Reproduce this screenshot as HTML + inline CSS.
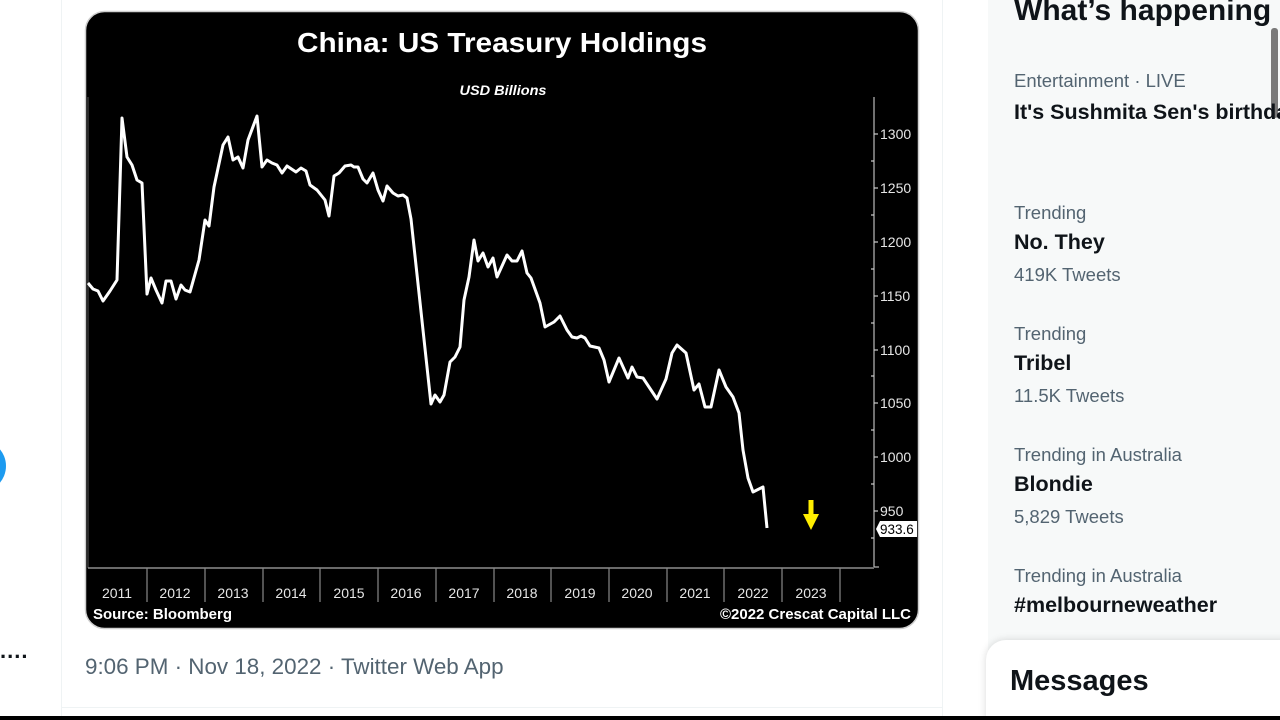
<!DOCTYPE html>
<html><head><meta charset="utf-8">
<style>
html,body{margin:0;padding:0;width:1280px;height:720px;overflow:hidden;background:#fff;font-family:"Liberation Sans",sans-serif;}
.abs{position:absolute;}
.side{left:988px;top:0;width:292px;height:650px;background:#f7f9f9;}
.g{color:#536471;font-size:18.5px;white-space:nowrap;}
.b{color:#0f1419;font-size:21.5px;font-weight:bold;white-space:nowrap;}
</style></head>
<body>
<!-- left nav -->
<div class="abs" style="left:-46px;top:440px;width:52px;height:52px;border-radius:50%;background:#1d9bf0;"></div>
<div class="abs" style="left:0;top:638px;font-size:22px;font-weight:bold;color:#0f1419;letter-spacing:1px;">....</div>
<div class="abs" style="left:61px;top:0;width:1px;height:716px;background:#eff3f4;"></div>
<div class="abs" style="left:942px;top:0;width:1px;height:716px;background:#eff3f4;"></div>
<div class="abs" style="left:62px;top:707px;width:880px;height:1px;background:#eff3f4;"></div>

<!-- chart -->
<svg class="abs" style="left:0;top:0" width="940" height="640" viewBox="0 0 940 640">
<rect x="85.5" y="11.5" width="833" height="617" rx="19" fill="#000" stroke="#cfcfcf" stroke-width="1.5"/>
<text x="502" y="52" text-anchor="middle" fill="#fff" font-family="Liberation Sans" font-weight="bold" font-size="28" textLength="410" lengthAdjust="spacingAndGlyphs">China: US Treasury Holdings</text>
<text x="503" y="95" text-anchor="middle" fill="#fff" font-family="Liberation Sans" font-weight="bold" font-style="italic" font-size="14" textLength="87" lengthAdjust="spacingAndGlyphs">USD Billions</text>
<line x1="88" y1="97" x2="88" y2="568" stroke="#555" stroke-width="1"/>
<!-- x axis -->
<line x1="88" y1="568" x2="874" y2="568" stroke="#aaa" stroke-width="1.2"/>
<g stroke="#888" stroke-width="1.2">
<line x1="147" y1="568" x2="147" y2="602"/><line x1="205" y1="568" x2="205" y2="602"/><line x1="263" y1="568" x2="263" y2="602"/><line x1="320" y1="568" x2="320" y2="602"/><line x1="378" y1="568" x2="378" y2="602"/><line x1="436" y1="568" x2="436" y2="602"/><line x1="494" y1="568" x2="494" y2="602"/><line x1="551" y1="568" x2="551" y2="602"/><line x1="609" y1="568" x2="609" y2="602"/><line x1="667" y1="568" x2="667" y2="602"/><line x1="724" y1="568" x2="724" y2="602"/><line x1="782" y1="568" x2="782" y2="602"/><line x1="840" y1="568" x2="840" y2="602"/>
</g>
<g fill="#e6e6e6" font-family="Liberation Sans" font-size="14" text-anchor="middle">
<text x="117" y="598">2011</text><text x="175" y="598">2012</text><text x="233" y="598">2013</text><text x="291" y="598">2014</text><text x="349" y="598">2015</text><text x="406" y="598">2016</text><text x="464" y="598">2017</text><text x="522" y="598">2018</text><text x="580" y="598">2019</text><text x="637" y="598">2020</text><text x="695" y="598">2021</text><text x="753" y="598">2022</text><text x="811" y="598">2023</text>
</g>
<!-- right axis -->
<line x1="874" y1="97" x2="874" y2="567" stroke="#bbb" stroke-width="1.2"/>
<line x1="874" y1="567" x2="879" y2="567" stroke="#bbb" stroke-width="1.2"/>
<g stroke="#ccc" stroke-width="1.2">
<line x1="874" y1="134" x2="878" y2="134"/><line x1="874" y1="188" x2="878" y2="188"/><line x1="874" y1="242" x2="878" y2="242"/><line x1="874" y1="296" x2="878" y2="296"/><line x1="874" y1="350" x2="878" y2="350"/><line x1="874" y1="403" x2="878" y2="403"/><line x1="874" y1="457" x2="878" y2="457"/><line x1="874" y1="511" x2="878" y2="511"/>
<line x1="871" y1="161" x2="874" y2="161"/><line x1="871" y1="215" x2="874" y2="215"/><line x1="871" y1="269" x2="874" y2="269"/><line x1="871" y1="323" x2="874" y2="323"/><line x1="871" y1="376" x2="874" y2="376"/><line x1="871" y1="430" x2="874" y2="430"/><line x1="871" y1="484" x2="874" y2="484"/><line x1="871" y1="538" x2="874" y2="538"/>
</g>
<g fill="#e6e6e6" font-family="Liberation Sans" font-size="14">
<text x="880" y="139">1300</text><text x="880" y="193">1250</text><text x="880" y="247">1200</text><text x="880" y="301">1150</text><text x="880" y="355">1100</text><text x="880" y="408">1050</text><text x="880" y="462">1000</text><text x="880" y="516">950</text>
</g>
<path d="M876 529 L880 521 L917 521 L917 537 L880 537 Z" fill="#fff"/>
<text x="880" y="534" fill="#000" font-family="Liberation Sans" font-size="13.5">933.6</text>
<!-- series -->
<polyline fill="none" stroke="#fff" stroke-width="3" stroke-linejoin="round" points="88,283 93,289 98,291 103,301 110,291 117,280 122,118 127,157 132,165 137,180 142,183 147,294 151,278 156,290 162,303 166,281 171,281 176,299 181,285 185,290 190,292 199,260 205,220 209,226 214,187 223,145 228,137 233,160 238,157 243,168 248,140 257,116 262,167 267,160 272,163 277,165 282,173 287,166 296,172 301,168 306,171 310,185 317,190 325,200 329,216 334,176 339,173 345,166 351,165 354,167 358,167 363,179 367,183 373,173 378,190 383,201 387,186 393,193 398,196 403,195 407,198 411,219 431,404 435,395 440,402 444,395 450,362 455,357 460,347 464,300 469,277 474,240 478,261 483,253 488,267 493,258 497,277 507,255 512,261 517,261 522,251 527,273 531,278 540,303 545,327 554,322 560,316 567,330 572,337 577,338 581,336 585,338 590,346 599,348 604,360 609,382 619,358 628,378 632,367 637,377 643,378 657,399 666,379 672,353 677,345 686,353 694,390 699,384 705,407 711,407 719,370 726,387 733,397 739,413 743,450 748,478 753,492 763,487 767,528"/>
<!-- arrow -->
<rect x="808.5" y="500" width="5" height="15" fill="#ffee00"/>
<path d="M803 514 L819 514 L811 530 Z" fill="#ffee00"/>
<text x="93" y="619" fill="#fff" font-family="Liberation Sans" font-weight="bold" font-size="15" textLength="139" lengthAdjust="spacingAndGlyphs">Source: Bloomberg</text>
<text x="911" y="619" text-anchor="end" fill="#fff" font-family="Liberation Sans" font-weight="bold" font-size="15" textLength="191" lengthAdjust="spacingAndGlyphs">©2022 Crescat Capital LLC</text>
</svg>

<div class="abs" style="left:85px;top:654px;font-size:22.4px;color:#536471;white-space:nowrap;">9:06 PM · Nov 18, 2022 · Twitter Web App</div>

<!-- sidebar -->
<div class="abs side"></div>
<div class="abs" style="left:1014px;top:-6px;font-size:30px;font-weight:bold;color:#0f1419;white-space:nowrap;">What’s happening</div>
<div class="abs" style="left:1271px;top:28px;width:7px;height:90px;background:#7a7a7a;border-radius:3px;"></div>
<div class="abs g" style="left:1014px;top:70px;">Entertainment · LIVE</div>
<div class="abs b" style="left:1014px;top:100px;">It's Sushmita Sen's birthday</div>

<div class="abs g" style="left:1014px;top:202px;">Trending</div>
<div class="abs b" style="left:1014px;top:230px;">No. They</div>
<div class="abs g" style="left:1014px;top:264px;">419K Tweets</div>

<div class="abs g" style="left:1014px;top:323px;">Trending</div>
<div class="abs b" style="left:1014px;top:351px;">Tribel</div>
<div class="abs g" style="left:1014px;top:385px;">11.5K Tweets</div>

<div class="abs g" style="left:1014px;top:444px;">Trending in Australia</div>
<div class="abs b" style="left:1014px;top:472px;">Blondie</div>
<div class="abs g" style="left:1014px;top:506px;">5,829 Tweets</div>

<div class="abs g" style="left:1014px;top:565px;">Trending in Australia</div>
<div class="abs b" style="left:1014px;top:593px;">#melbourneweather</div>

<div class="abs" style="left:986px;top:640px;width:300px;height:80px;background:#fff;border-radius:20px 0 0 0;box-shadow:0 0 8px rgba(0,0,0,0.15);"></div>
<div class="abs" style="left:1010px;top:665px;font-size:29px;font-weight:bold;color:#0f1419;">Messages</div>

<div class="abs" style="left:0;top:716px;width:1280px;height:4px;background:#000;"></div>
</body></html>
